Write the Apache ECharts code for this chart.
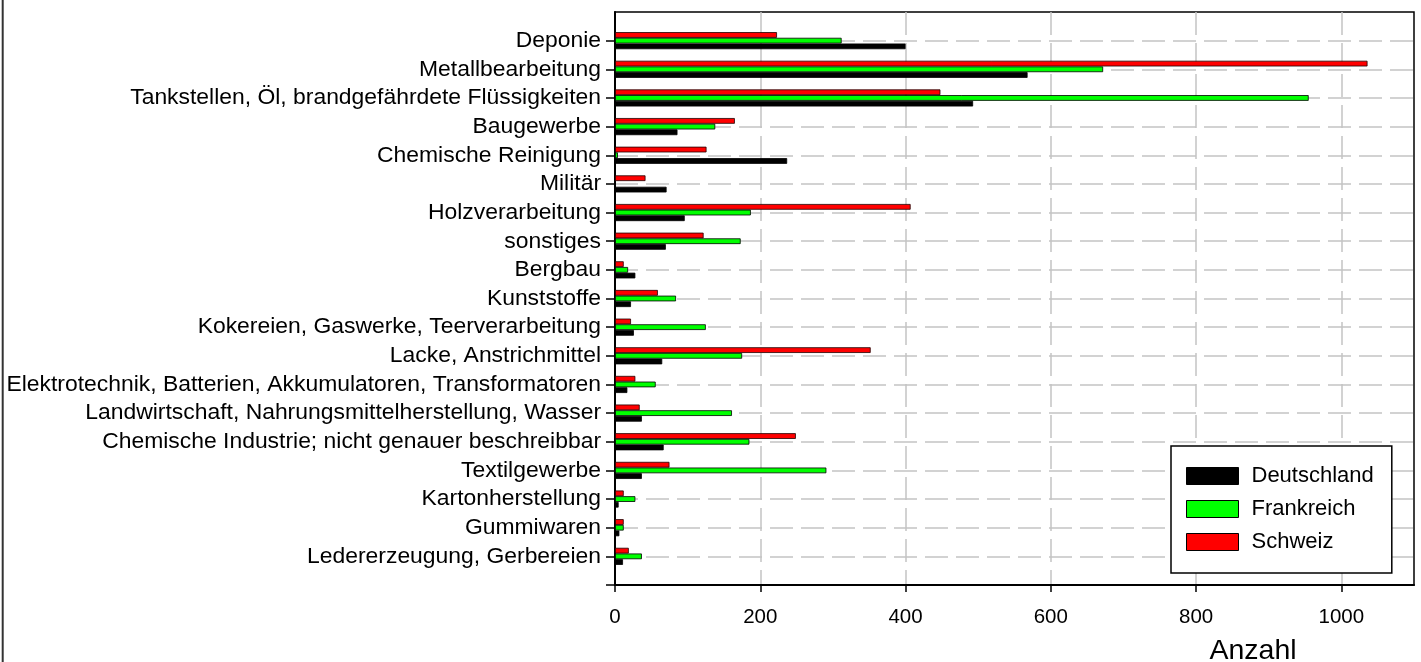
<!DOCTYPE html>
<html>
<head>
<meta charset="utf-8">
<script src="https://cdn.jsdelivr.net/npm/echarts@6/dist/echarts.min.js"></script>
<style>
html,body{margin:0;padding:0;background:#fff;}
#chart{width:1421px;height:662px;}
</style>
</head>
<body>
<div id="chart"></div>
<script>
const categories = [
  'Deponie',
  'Metallbearbeitung',
  'Tankstellen, Öl, brandgefährdete Flüssigkeiten',
  'Baugewerbe',
  'Chemische Reinigung',
  'Militär',
  'Holzverarbeitung',
  'sonstiges',
  'Bergbau',
  'Kunststoffe',
  'Kokereien, Gaswerke, Teerverarbeitung',
  'Lacke, Anstrichmittel',
  'Elektrotechnik, Batterien, Akkumulatoren, Transformatoren',
  'Landwirtschaft, Nahrungsmittelherstellung, Wasser',
  'Chemische Industrie; nicht genauer beschreibbar',
  'Textilgewerbe',
  'Kartonherstellung',
  'Gummiwaren',
  'Ledererzeugung, Gerbereien'
];
const deutschland = [400, 568, 493, 86, 237, 71, 96, 70, 28, 22, 26, 65, 17, 37, 67, 37, 5, 6, 11];
const frankreich  = [312, 672, 955, 138, 4, 0, 187, 173, 18, 84, 125, 175, 56, 161, 185, 291, 28, 12, 37];
const schweiz     = [223, 1036, 448, 165, 126, 42, 407, 122, 12, 59, 22, 352, 28, 34, 249, 75, 12, 12, 19];
const xTicks = [0, 200, 400, 600, 800, 1000];
const seriesNames = ['Deutschland', 'Frankreich', 'Schweiz'];

const FONT = 'Liberation Sans, Arial, Helvetica, sans-serif';
const yCats = [''].concat(categories, ['']);
const pad = arr => ['-'].concat(arr, ['-']);
const lastIdx = yCats.length - 1;

const chart = echarts.init(document.getElementById('chart'), null, {renderer: 'canvas'});
const barCommon = {
  type: 'bar',
  barWidth: 5.7,
  barGap: '0%',
  animation: false
};
chart.setOption({
  animation: false,
  backgroundColor: '#fff',
  textStyle: {fontFamily: FONT},
  grid: {
    left: 615, right: 7, top: 12, bottom: 77,
    containLabel: false,
    outerBoundsMode: 'none',
    show: true, borderColor: '#000', borderWidth: 1.5, backgroundColor: 'transparent'
  },
  legend: {
    data: seriesNames,
    orient: 'vertical',
    left: 1171, top: 446,
    padding: [19, 18, 20, 15],
    itemWidth: 52, itemHeight: 17, itemGap: 11,
    backgroundColor: '#fff',
    borderColor: '#000', borderWidth: 1.5, borderRadius: 0,
    icon: 'rect',
    itemStyle: {borderColor: '#000', borderWidth: 1},
    textStyle: {fontSize: 22, color: '#000', fontFamily: FONT, lineHeight: 17, padding: [0, 0, 0, 8]},
    selectedMode: false
  },
  xAxis: {
    type: 'value',
    min: 0, max: 1100, interval: 200,
    name: 'Anzahl',
    nameLocation: 'middle',
    nameGap: 52,
    nameTextStyle: {fontSize: 28.5, color: '#000', fontFamily: FONT, padding: [0, 0, 0, 477]},
    axisLine: {show: true, onZero: false, lineStyle: {color: '#000', width: 2}},
    axisTick: {show: true, length: 7, lineStyle: {color: '#000', width: 1.5}, customValues: xTicks},
    axisLabel: {fontSize: 20.5, color: '#000', margin: 22, fontFamily: FONT, customValues: xTicks,
      formatter: (v) => String(v)},
    splitLine: {show: true, lineStyle: {color: '#c4c4c4', width: 1.5, type: [23, 8]}}
  },
  yAxis: {
    type: 'category',
    data: yCats,
    inverse: true,
    boundaryGap: false,
    axisLine: {show: true, lineStyle: {color: '#000', width: 2}},
    axisTick: {show: true, length: 9, lineStyle: {color: '#000', width: 1.5},
      interval: (i) => i !== 0},
    axisLabel: {fontSize: 22.9, color: '#000', margin: 14, fontFamily: FONT, interval: 0},
    splitLine: {show: true, interval: (i) => i !== 0 && i !== lastIdx,
      lineStyle: {color: '#c4c4c4', width: 1.5, type: [23, 8]}}
  },
  series: [
    Object.assign({}, barCommon, {name: 'Schweiz', data: pad(schweiz),
      itemStyle: {color: '#ff0000', borderColor: '#200000', borderWidth: 0.8}}),
    Object.assign({}, barCommon, {name: 'Frankreich', data: pad(frankreich),
      itemStyle: {color: '#00ff00', borderColor: '#000', borderWidth: 0.8}}),
    Object.assign({}, barCommon, {name: 'Deutschland', data: pad(deutschland),
      itemStyle: {color: '#000000', borderColor: '#000', borderWidth: 0.8}})
  ],
  graphic: [{
    type: 'line', shape: {x1: 2.7, y1: 0, x2: 2.7, y2: 662},
    style: {stroke: '#333', lineWidth: 2}, silent: true
  }]
});
</script>
</body>
</html>
